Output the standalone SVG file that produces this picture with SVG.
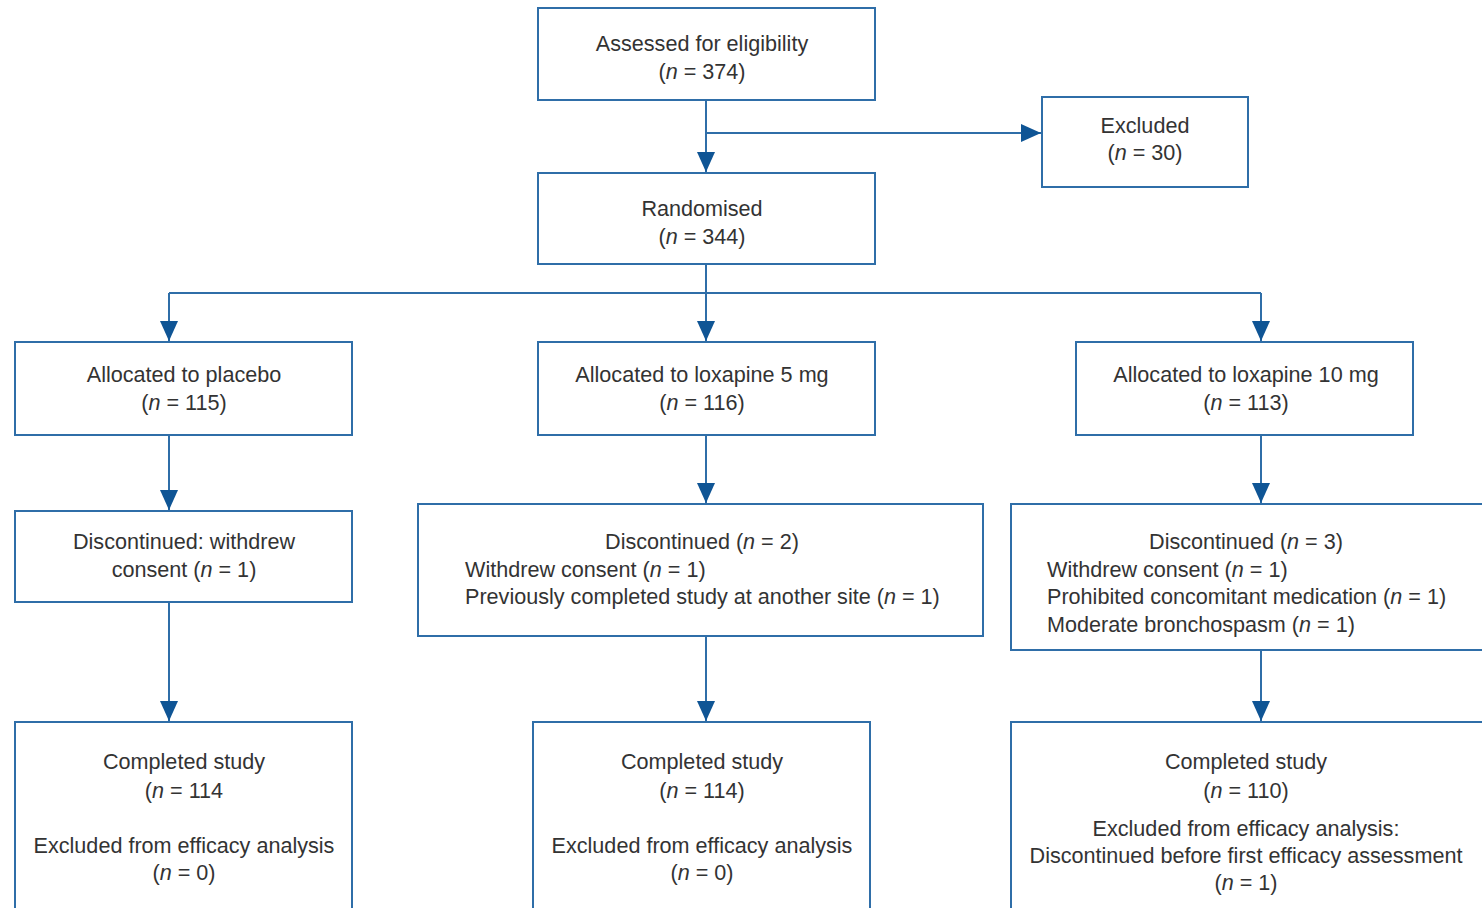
<svg xmlns="http://www.w3.org/2000/svg" width="1482" height="908" viewBox="0 0 1482 908">
<defs>
<marker id="ah" viewBox="0 0 20 18" refX="20" refY="9" markerWidth="20" markerHeight="18" markerUnits="userSpaceOnUse" orient="auto">
<path d="M0,0 L20,9 L0,18 z" fill="#0f5595"/>
</marker>
<style>
rect.box{fill:#fff;stroke:#2f6ea8;stroke-width:2}
.conn line{stroke:#2f6ea8;stroke-width:2;fill:none}
text{font-family:"Liberation Sans",Arial,sans-serif;font-size:21.6px;fill:#333}
text.c{text-anchor:middle}
.i{font-style:italic}
</style>
</defs>
<rect width="1482" height="908" fill="#fff"/>

<g id="assessed">
<rect class="box" x="538" y="8" width="337" height="92"/>
<text class="c" x="702" y="51">Assessed for eligibility</text>
<text class="c" x="702" y="79">(<tspan class="i">n</tspan> = 374)</text>
</g>
<g id="excluded">
<rect class="box" x="1042" y="97" width="206" height="90"/>
<text class="c" x="1145" y="133">Excluded</text>
<text class="c" x="1145" y="160">(<tspan class="i">n</tspan> = 30)</text>
</g>
<g id="randomised">
<rect class="box" x="538" y="173" width="337" height="91"/>
<text class="c" x="702" y="216">Randomised</text>
<text class="c" x="702" y="244">(<tspan class="i">n</tspan> = 344)</text>
</g>
<g id="placebo">
<rect class="box" x="15" y="342" width="337" height="93"/>
<text class="c" x="184" y="382">Allocated to placebo</text>
<text class="c" x="184" y="410">(<tspan class="i">n</tspan> = 115)</text>
</g>
<g id="lox5">
<rect class="box" x="538" y="342" width="337" height="93"/>
<text class="c" x="702" y="382">Allocated to loxapine 5 mg</text>
<text class="c" x="702" y="410">(<tspan class="i">n</tspan> = 116)</text>
</g>
<g id="lox10">
<rect class="box" x="1076" y="342" width="337" height="93"/>
<text class="c" x="1246" y="382">Allocated to loxapine 10 mg</text>
<text class="c" x="1246" y="410">(<tspan class="i">n</tspan> = 113)</text>
</g>
<g id="disc-placebo">
<rect class="box" x="15" y="511" width="337" height="91"/>
<text class="c" x="184" y="549">Discontinued: withdrew</text>
<text class="c" x="184" y="577">consent (<tspan class="i">n</tspan> = 1)</text>
</g>
<g id="disc-lox5">
<rect class="box" x="418" y="504" width="565" height="132"/>
<text class="c" x="702" y="549">Discontinued (<tspan class="i">n</tspan> = 2)</text>
<text x="465" y="577">Withdrew consent (<tspan class="i">n</tspan> = 1)</text>
<text x="465" y="604">Previously completed study at another site (<tspan class="i">n</tspan> = 1)</text>
</g>
<g id="disc-lox10">
<rect class="box" x="1011" y="504" width="490" height="146"/>
<text class="c" x="1246" y="549">Discontinued (<tspan class="i">n</tspan> = 3)</text>
<text x="1047" y="577">Withdrew consent (<tspan class="i">n</tspan> = 1)</text>
<text x="1047" y="604">Prohibited concomitant medication (<tspan class="i">n</tspan> = 1)</text>
<text x="1047" y="632">Moderate bronchospasm (<tspan class="i">n</tspan> = 1)</text>
</g>
<g id="comp-placebo">
<rect class="box" x="15" y="722" width="337" height="210"/>
<text class="c" x="184" y="769">Completed study</text>
<text class="c" x="184" y="798">(<tspan class="i">n</tspan> = 114</text>
<text class="c" x="184" y="853">Excluded from efficacy analysis</text>
<text class="c" x="184" y="880">(<tspan class="i">n</tspan> = 0)</text>
</g>
<g id="comp-lox5">
<rect class="box" x="533" y="722" width="337" height="210"/>
<text class="c" x="702" y="769">Completed study</text>
<text class="c" x="702" y="798">(<tspan class="i">n</tspan> = 114)</text>
<text class="c" x="702" y="853">Excluded from efficacy analysis</text>
<text class="c" x="702" y="880">(<tspan class="i">n</tspan> = 0)</text>
</g>
<g id="comp-lox10">
<rect class="box" x="1011" y="722" width="490" height="210"/>
<text class="c" x="1246" y="769">Completed study</text>
<text class="c" x="1246" y="798">(<tspan class="i">n</tspan> = 110)</text>
<text class="c" x="1246" y="836">Excluded from efficacy analysis:</text>
<text class="c" x="1246" y="863">Discontinued before first efficacy assessment</text>
<text class="c" x="1246" y="890">(<tspan class="i">n</tspan> = 1)</text>
</g>

<g class="conn" id="connectors">
<line x1="706" y1="100" x2="706" y2="172" marker-end="url(#ah)"/>
<line x1="706" y1="133" x2="1041" y2="133" marker-end="url(#ah)"/>
<line x1="706" y1="264" x2="706" y2="293"/>
<line x1="169" y1="293" x2="1261" y2="293"/>
<line x1="169" y1="293" x2="169" y2="341" marker-end="url(#ah)"/>
<line x1="706" y1="293" x2="706" y2="341" marker-end="url(#ah)"/>
<line x1="1261" y1="293" x2="1261" y2="341" marker-end="url(#ah)"/>
<line x1="169" y1="435" x2="169" y2="510" marker-end="url(#ah)"/>
<line x1="706" y1="435" x2="706" y2="503" marker-end="url(#ah)"/>
<line x1="1261" y1="435" x2="1261" y2="503" marker-end="url(#ah)"/>
<line x1="169" y1="602" x2="169" y2="721" marker-end="url(#ah)"/>
<line x1="706" y1="636" x2="706" y2="721" marker-end="url(#ah)"/>
<line x1="1261" y1="650" x2="1261" y2="721" marker-end="url(#ah)"/>
</g>
</svg>
